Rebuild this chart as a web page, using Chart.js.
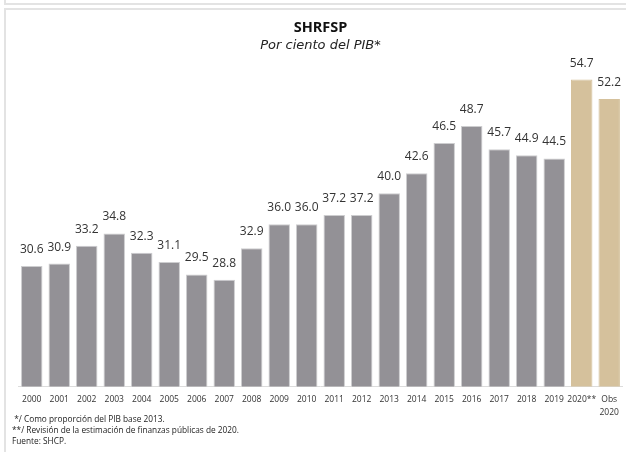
<!DOCTYPE html>
<html>
<head>
<meta charset="utf-8">
<script src="https://cdn.jsdelivr.net/npm/chart.js@4.4.1/dist/chart.umd.min.js"></script>
<style>
  body { margin: 0; background: #fff; overflow: hidden; font-family: "Open Sans", sans-serif; }
  .panel { position: absolute; border: 2px solid #e3e3e3; box-sizing: border-box; }
  #chart-wrap { position: absolute; left: 8px; top: 11px; width: 618px; height: 415px; }
  #notes { position: absolute; left: 12px; top: 413px; font-size: 8.3px; line-height: 11px; color: #222; }
</style>
</head>
<body>
<div class="panel" style="left:4px; top:-20px; width:700px; height:25px;"></div>
<div class="panel" style="left:4px; top:8px; width:700px; height:460px;"></div>
<div id="chart-wrap"><canvas id="shrfsp-chart"></canvas></div>
<div id="notes">
  <div>&nbsp;*/ Como proporción del PIB base 2013.</div>
  <div>**/ Revisión de la estimación de finanzas públicas de 2020.</div>
  <div>Fuente: SHCP.</div>
</div>
<script>
const years = ["2000", "2001", "2002", "2003", "2004", "2005", "2006", "2007", "2008", "2009",
  "2010", "2011", "2012", "2013", "2014", "2015", "2016", "2017", "2018", "2019", "2020**", ["Obs", "2020"]];
const shrfsp = [30.6, 30.9, 33.2, 34.8, 32.3, 31.1, 29.5, 28.8, 32.9, 36.0,
  36.0, 37.2, 37.2, 40.0, 42.6, 46.5, 48.7, 45.7, 44.9, 44.5, 54.7, 52.2];

// the two 2020 bars are drawn in tan
const is2020 = (l) => String(l).includes("2020");
const barColors = years.map((l) => (is2020(l) ? "#d5c19c" : "#939196"));
const edgeColors = years.map((l) => (is2020(l) ? "#d5c19c" : "#cdcdcf"));

// value labels above the bars
const valueLabels = {
  id: "valueLabels",
  afterDatasetsDraw(chart) {
    const ctx = chart.ctx;
    const meta = chart.getDatasetMeta(0);
    ctx.save();
    ctx.font = "12px 'Open Sans'";
    ctx.fillStyle = "#333";
    ctx.textAlign = "center";
    ctx.textBaseline = "alphabetic";
    meta.data.forEach((bar, i) => {
      ctx.fillText(shrfsp[i].toFixed(1), bar.x, bar.y - 13);
    });
    ctx.restore();
  }
};

new Chart(document.querySelector("#shrfsp-chart"), {
  type: "bar",
  data: {
    labels: years,
    datasets: [{
      data: shrfsp,
      backgroundColor: barColors,
      borderColor: edgeColors,
      borderWidth: 1,
      barPercentage: 0.78,
      categoryPercentage: 1
    }]
  },
  options: {
    responsive: true,
    maintainAspectRatio: false,
    animation: false,
    layout: { padding: { left: 10, right: 3, top: 0, bottom: 0 } },
    plugins: {
      legend: { display: false },
      tooltip: { enabled: false },
      title: {
        display: true,
        text: "SHRFSP",
        color: "#111",
        font: { family: "'Open Sans'", size: 14.5, weight: "bold" },
        padding: { top: 8, bottom: 0 }
      },
      subtitle: {
        display: true,
        text: "Por ciento del PIB*",
        color: "#222",
        font: { family: "'DejaVu Sans'", size: 13, style: "italic" },
        padding: { top: 1, bottom: 10 }
      }
    },
    scales: {
      x: {
        grid: { display: false, drawTicks: false },
        border: { display: true, color: "#dcdcdc", width: 1 },
        ticks: {
          color: "#333",
          font: { family: "'Open Sans'", size: 8.5, lineHeight: 1.5 },
          padding: 7,
          maxRotation: 0,
          autoSkip: false
        }
      },
      y: { display: false, min: 15, max: 56.85 }
    }
  },
  plugins: [valueLabels]
});
</script>
</body>
</html>
